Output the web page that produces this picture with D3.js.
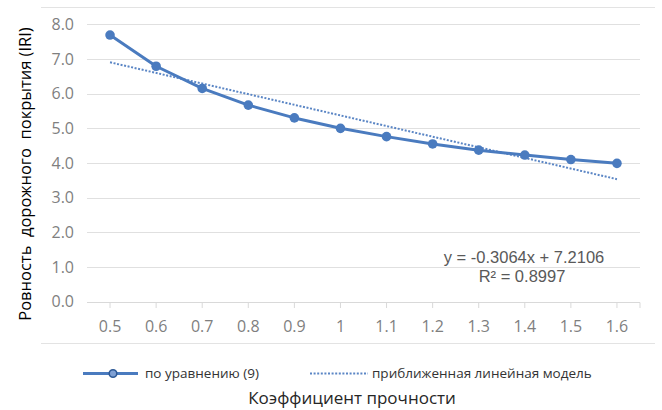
<!DOCTYPE html>
<html><head><meta charset="utf-8">
<script src="https://cdn.jsdelivr.net/npm/d3@7"></script>
<style>body{margin:0;background:#fff}svg{display:block}</style>
</head><body>
<svg id="c" width="662" height="410"></svg>
<script>
const categories = ["0.5","0.6","0.7","0.8","0.9","1","1.1","1.2","1.3","1.4","1.5","1.6"];
const seriesValues = [7.69,6.79,6.15,5.67,5.30,5.00,4.76,4.55,4.37,4.23,4.10,3.99];
const yTicks = [0,1,2,3,4,5,6,7,8];
const trendSlope = -0.3064, trendIntercept = 7.2106, trendR2 = 0.8997;
const seriesName = "по уравнению (9)";
const trendName = "приближенная линейная модель";
const xTitle = "Коэффициент прочности";
const yTitle = "Ровность  дорожного  покрытия (IRI)";

const svg = d3.select("#c");
const L = 87, R = 640, T = 24.3, B = 301.7;
const x = d3.scaleBand().domain(categories).range([L, R]);
const y = d3.scaleLinear().domain([0, 8]).range([B, T]);
const cx = c => x(c) + x.bandwidth()/2;
const blue = "#4a7bbf";
const font = "'Open Sans', sans-serif";

// outer frame lines
svg.append("line").attr("x1",41).attr("x2",655).attr("y1",7.5).attr("y2",7.5).attr("stroke","#e3e3e3");
svg.append("line").attr("x1",41).attr("x2",655).attr("y1",343.5).attr("y2",343.5).attr("stroke","#e3e3e3");

// gridlines
svg.append("g").selectAll("line").data(yTicks.slice(1)).join("line")
  .attr("x1",L).attr("x2",R).attr("y1",d=>Math.round(y(d))+0.5).attr("y2",d=>Math.round(y(d))+0.5)
  .attr("stroke","#e0e0e0").attr("stroke-width",1);

// y axis labels
const yAxis = d3.axisLeft(y).tickValues(yTicks).tickFormat(d3.format(".1f")).tickSize(0).tickPadding(0);
const gy = svg.append("g").attr("transform",`translate(${L-13},0)`).call(yAxis);
gy.select(".domain").remove();
gy.selectAll("text").attr("font-family",font).attr("font-size",16).attr("fill","#7f7f7f");

// x axis
const xAxis = d3.axisBottom(x).tickSize(0).tickPadding(0);
const gx = svg.append("g").attr("transform",`translate(0,${Math.round(B)+0.5})`).call(xAxis);
gx.select(".domain").attr("stroke","#d9d9d9").attr("d",`M${L},0H${R}`);
gx.selectAll("text").attr("font-family",font).attr("font-size",16).attr("fill","#7f7f7f").attr("dy","1.85em");
svg.append("g").selectAll("line").data(categories).join("line")
  .attr("x1",d=>cx(d)).attr("x2",d=>cx(d)).attr("y1",Math.round(B)+0.5).attr("y2",Math.round(B)+6)
  .attr("stroke","#d9d9d9");
svg.append("line").attr("x1",R).attr("x2",R).attr("y1",Math.round(B)+0.5).attr("y2",Math.round(B)+6).attr("stroke","#d9d9d9");

// trend line
svg.append("line")
  .attr("x1",cx(categories[0])).attr("y1",y(trendIntercept + trendSlope*1))
  .attr("x2",cx(categories[categories.length-1])).attr("y2",y(trendIntercept + trendSlope*categories.length))
  .attr("stroke","#5b86c5").attr("stroke-width",2).attr("stroke-dasharray","2,1.6");

// series line
const line = d3.line().x((d,i)=>cx(categories[i])).y(d=>y(d));
svg.append("path").datum(seriesValues).attr("d",line).attr("fill","none")
  .attr("stroke",blue).attr("stroke-width",3).attr("stroke-linejoin","round");
svg.append("g").selectAll("circle").data(seriesValues).join("circle")
  .attr("cx",(d,i)=>cx(categories[i])).attr("cy",d=>y(d)).attr("r",4.8).attr("fill",blue);

// equation label
const eqFont = "'Liberation Sans', Arial, sans-serif";
svg.append("text").attr("x",524).attr("y",263).attr("text-anchor","middle")
  .attr("font-family",eqFont).attr("font-size",16.5).attr("fill","#595959")
  .text(`y = ${trendSlope}x + ${trendIntercept}`);
svg.append("text").attr("x",522).attr("y",282).attr("text-anchor","middle")
  .attr("font-family",eqFont).attr("font-size",16.5).attr("fill","#595959")
  .text(`R² = ${trendR2}`);

// legend
const ly = 373.5;
svg.append("line").attr("x1",83).attr("x2",138).attr("y1",ly).attr("y2",ly).attr("stroke",blue).attr("stroke-width",3);
svg.append("circle").attr("cx",113).attr("cy",ly).attr("r",3.8).attr("fill","#7fa0d4").attr("stroke","#2f5a96").attr("stroke-width",1.6);
svg.append("text").attr("x",145).attr("y",ly+4.5).attr("font-family",font).attr("font-size",13.5).attr("fill","#333").text(seriesName);
svg.append("line").attr("x1",310).attr("x2",368).attr("y1",ly).attr("y2",ly).attr("stroke","#5b86c5").attr("stroke-width",2).attr("stroke-dasharray","2,1.6");
svg.append("text").attr("x",372).attr("y",ly+4.5).attr("font-family",font).attr("font-size",13.5).attr("fill","#333").text(trendName);

// axis titles
svg.append("text").attr("x",352).attr("y",404).attr("text-anchor","middle")
  .attr("font-family",font).attr("font-size",17).attr("fill","#262626").text(xTitle);
svg.append("text").attr("transform","translate(31,174) rotate(-90)").attr("text-anchor","middle")
  .attr("font-family",font).attr("font-size",16.5).attr("fill","#000").style("white-space","pre").text(yTitle);
</script>
</body></html>
